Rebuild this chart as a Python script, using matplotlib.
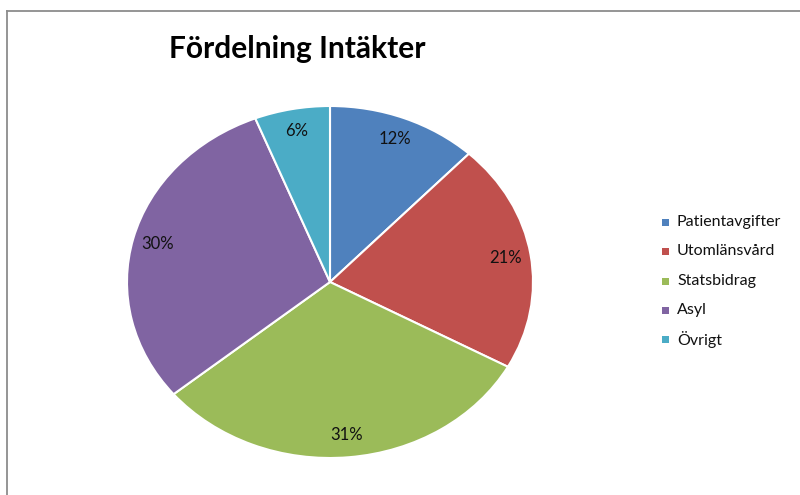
import matplotlib
matplotlib.use("Agg")
import matplotlib.pyplot as plt
from matplotlib.lines import Line2D
from matplotlib.patches import Rectangle

categories = ["Patientavgifter", "Utomlänsvård", "Statsbidrag", "Asyl", "Övrigt"]
values = [12, 21, 31, 30, 6]
colors = ["#4F81BD", "#C0504D", "#9BBB59", "#8064A2", "#4BACC6"]
title = "Fördelning Intäkter"

W, H = 800, 495
fig = plt.figure(figsize=(W / 100, H / 100), dpi=100)
plt.rcParams['font.family'] = ['Lato', 'DejaVu Sans']

# pie ellipse in pixels
cx, cy, rx, ry = 330, 282, 203, 176
m = 1.1
ax = fig.add_axes([(cx - rx * m) / W, (H - cy - ry * m) / H, 2 * rx * m / W, 2 * ry * m / H])
wedges, texts, autotexts = ax.pie(
    values, colors=colors, startangle=90, counterclock=False,
    autopct="%d%%", pctdistance=0.875,
    wedgeprops=dict(edgecolor="white", linewidth=1.5),
    textprops=dict(fontsize=12, color="#111111"))
ax.set_aspect("auto")
ax.set_xlim(-m, m)
ax.set_ylim(-m, m)
ax.axis("off")

fig.text(297 / W, 1 - 49 / H, title, ha="center", va="center",
         fontsize=21.5, fontweight="bold", color="black")

# legend, entries placed row by row
row_y = 222
row_step = 29.3
for i, (lab, c) in enumerate(zip(categories, colors)):
    y = row_y + i * row_step
    fig.add_artist(Rectangle(((662) / W, 1 - (y + 4) / H), 7 / W, 7 / H,
                             facecolor=c, edgecolor="none", transform=fig.transFigure))
    fig.text(677 / W, 1 - y / H, lab, ha="left", va="center",
             fontsize=11.5, color="#111111")

# chart border (left and top)
fig.add_artist(Line2D([6.5 / W, 6.5 / W], [0, 1 - 10.5 / H], color="#8c8c8c", lw=1.3,
                      transform=fig.transFigure))
fig.add_artist(Line2D([6.5 / W, 1], [1 - 10.5 / H, 1 - 10.5 / H], color="#8c8c8c", lw=1.3,
                      transform=fig.transFigure))

fig.savefig("out.png", dpi=100)
